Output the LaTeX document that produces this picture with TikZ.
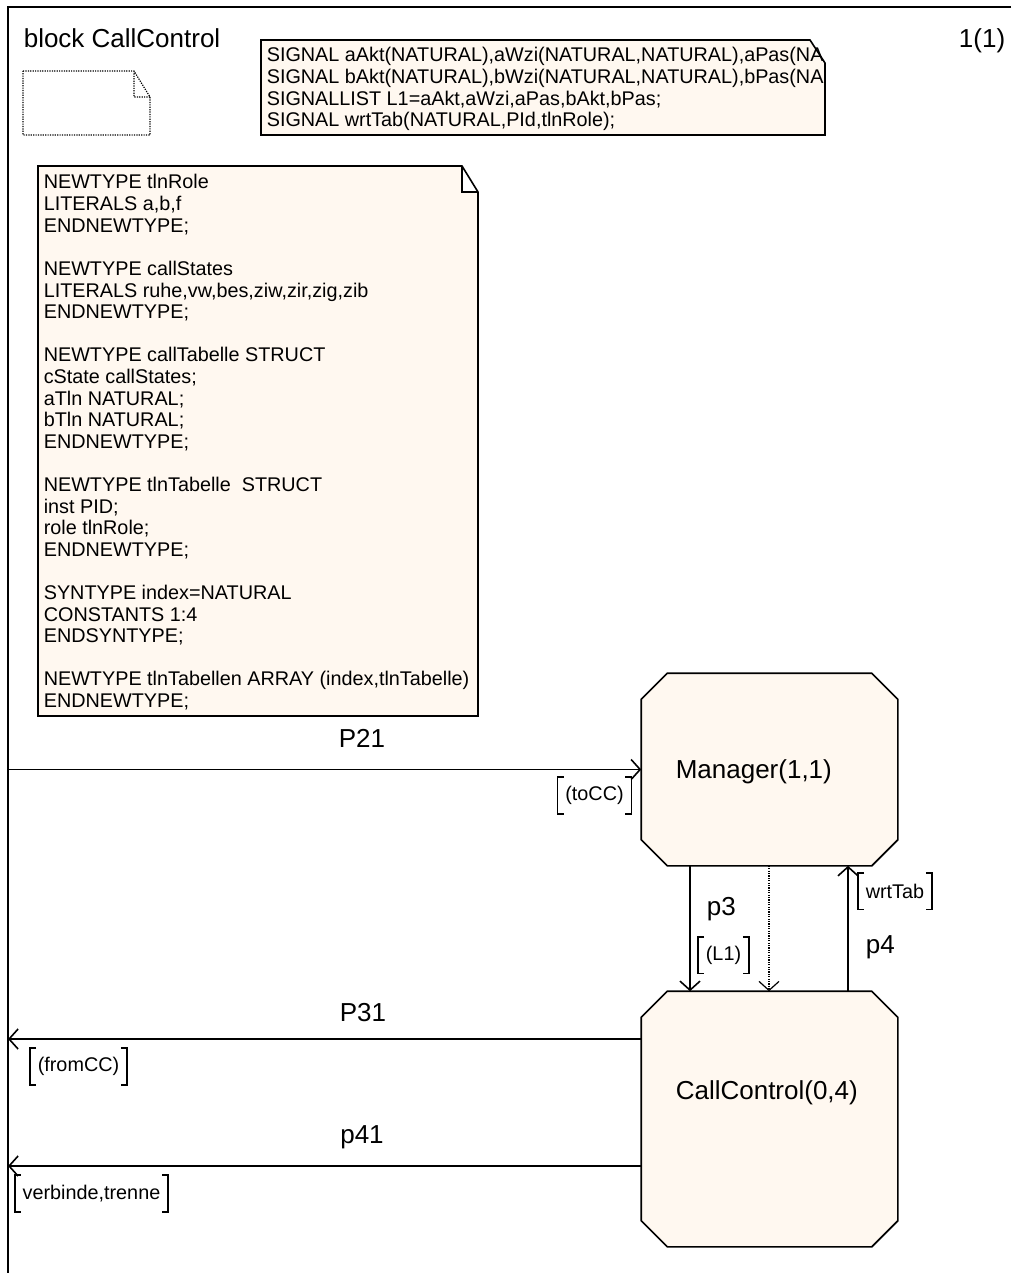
\documentclass[tikz,border=0pt]{standalone}
\usepackage{fontspec}
\setmainfont{Liberation Sans}
\usetikzlibrary{positioning,calc,shapes,arrows.meta}
\definecolor{sdlfill}{RGB}{255,248,240}
\newcommand{\sigbrackets}[1]{%
    \draw (#1.north west) ++(6,0) -- (#1.north west) -- (#1.south west) -- ++(6,0);
    \draw (#1.north east) ++(-6,0) -- (#1.north east) -- (#1.south east) -- ++(-6,0);
}
\newcommand{\procshape}[1]{%
    \draw[fill=sdlfill] ($(#1.north west)+(26,0)$) -- ($(#1.north east)+(-26,0)$) -- ($(#1.north east)+(0,-26)$)
        -- ($(#1.south east)+(0,26)$) -- ($(#1.south east)+(-26,0)$) -- ($(#1.south west)+(26,0)$)
        -- ($(#1.south west)+(0,26)$) -- ($(#1.north west)+(0,-26)$) -- cycle;
}

\begin{document}
\begin{tikzpicture}[x=1pt,y=1pt,line width=1.6pt,>={Straight Barb[length=9pt,width=20pt]}]
                        \tikzstyle{every node}=[inner sep=0]
                        \tikzstyle{txt}=[font=\fontsize{19.8}{21.7}\selectfont,anchor=base west]
                        \tikzstyle{big}=[font=\fontsize{26}{30}\selectfont]
                        \tikzstyle{proc}=[rectangle,minimum width=255pt]
                        \tikzstyle{sigl}=[font=\fontsize{19.8}{21.7}\selectfont,inner xsep=7pt,minimum height=35pt]
                        \tikzstyle{dots}=[dash pattern=on 1.2pt off 1.2pt,line width=1.2pt]
                        {
                            \useasboundingbox (0,0) rectangle (1011,-1273);
                            \draw (1011,-7) -- (8,-7) -- (8,-1273);

                            \node[big,anchor=base west] (title) at (23,-48) {block CallControl};
                            \node[big,anchor=base east] (page) at (1006,-48) {1(1)};

                            \draw[dots] (23,-71) -- (134,-71) -- (150,-97) -- (150,-135) -- (23,-135) -- cycle
                                (134,-71) -- (134,-97) -- (150,-97);

                            \draw[fill=sdlfill] (261,-40) -- (810,-40) -- (825,-63) -- (825,-135) -- (261,-135) -- cycle;
                            \begin{scope}
                                \clip (261,-40) rectangle (826,-135);
                                \foreach \line [count=\i] in {{SIGNAL aAkt(NATURAL),aWzi(NATURAL,NATURAL),aPas(NA},
                                        {SIGNAL bAkt(NATURAL),bWzi(NATURAL,NATURAL),bPas(NA},
                                        {SIGNALLIST L1=aAkt,aWzi,aPas,bAkt,bPas;},
                                        {SIGNAL wrtTab(NATURAL,PId,tlnRole);}} {
                                    \node[txt] (sig\i) at (266,{-61.7-21.7*(\i-1)}) {\line};
                                }
                            \end{scope}

                            \draw[fill=sdlfill] (38,-166) -- (462,-166) -- (478,-192) -- (478,-716) -- (38,-716) -- cycle
                                (462,-166) -- (462,-192) -- (478,-192);
                            \foreach \line [count=\i] in {NEWTYPE tlnRole,{LITERALS a,b,f},ENDNEWTYPE;,{},
                                    NEWTYPE callStates,{LITERALS ruhe,vw,bes,ziw,zir,zig,zib},ENDNEWTYPE;,{},
                                    NEWTYPE callTabelle STRUCT,cState callStates;,aTln NATURAL;,bTln NATURAL;,ENDNEWTYPE;,{},
                                    NEWTYPE tlnTabelle\ \ STRUCT,inst PID;,role tlnRole;,ENDNEWTYPE;,{},
                                    SYNTYPE index=NATURAL,CONSTANTS 1:4,ENDSYNTYPE;,{},
                                    {NEWTYPE tlnTabellen ARRAY (index,tlnTabelle)},ENDNEWTYPE;} {
                                \node[txt] (decl\i) at (43,{-189-21.6*(\i-1)}) {\line};
                            }

                            \node[proc,minimum height=191pt] (mgr) at (769.5,-769.5) {};
                            \procshape{mgr}
                            \node[big,anchor=base west] (mgrname) at (675,-778) {Manager(1,1)};
                            \node[proc,minimum height=254pt] (cc) at (769.5,-1119) {};
                            \procshape{cc}
                            \node[big,anchor=base west] (ccname) at (675,-1099) {CallControl(0,4)};

                            \coordinate (envP21) at (8,-769.5);
                            \coordinate (envP31) at (8,-1039);
                            \coordinate (envp41) at (8,-1166);
                            \coordinate (p3x) at (690,0);
                            \coordinate (dotx) at (769,0);
                            \coordinate (p4x) at (848,0);

                            \draw[->] (envP21) -- (envP21 -| mgr.west);
                            \draw[->] (mgr.south -| p3x) -- (cc.north -| p3x);
                            \draw[->,dots] (mgr.south -| dotx) -- (cc.north -| dotx);
                            \draw[->] (cc.north -| p4x) -- (mgr.south -| p4x);
                            \draw[->] (cc.west |- envP31) -- (envP31);
                            \draw[->] (cc.west |- envp41) -- (envp41);

                            \node[big,anchor=base] (lP21) at (362,-747) {P21};
                            \node[big,anchor=base] (lP31) at (363,-1021) {P31};
                            \node[big,anchor=base] (lp41) at (362,-1143) {p41};
                            \node[big,anchor=base west] (lp3) at (706,-915) {p3};
                            \node[big,anchor=base west] (lp4) at (865,-953) {p4};

                            \node[sigl] (sP21) at (594.5,-795.5) {(toCC)};
                            \node[sigl] (sp3) at (723.5,-955) {(L1)};
                            \node[sigl] (sp4) at (895,-891) {wrtTab};
                            \node[sigl] (sP31) at (78.5,-1066.5) {(fromCC)};
                            \node[sigl] (sp41) at (91.5,-1193.5) {verbinde,trenne};
                            \foreach \s in {sP21,sp3,sp4,sP31,sp41} {
                                \sigbrackets{\s}
                            }
                        }
                    \end{tikzpicture}
\end{document}
